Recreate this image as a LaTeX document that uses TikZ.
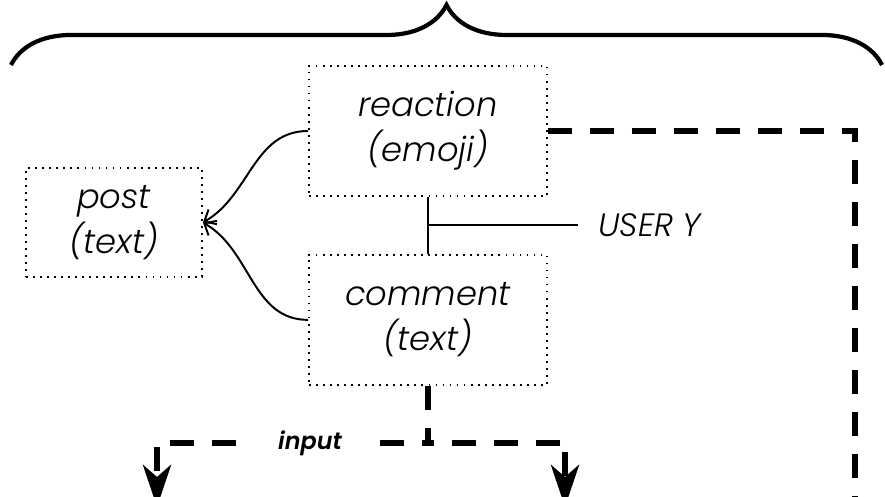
\documentclass[tikz,border=0pt]{standalone}
\usepackage{fontspec}
\setmainfont{Poppins}[ItalicFont={Poppins Light Italic},BoldItalicFont={Poppins SemiBold Italic}]
\usetikzlibrary{positioning,calc,arrows.meta,decorations.pathreplacing}
\tikzset{
    entity/.style={
           rectangle,
           draw=black, line width=1.3pt,
           dash pattern=on 1.3pt off 3.7pt,
           minimum width=5.95cm,
           minimum height=3.25cm,
           inner sep=2pt,
           align=center,
           font=\fontsize{24}{32}\selectfont\itshape,
           },
    link/.style={draw=black, line width=1.4pt},
    flow/.style={draw=black, line width=4.3pt, dash pattern=on 0.6cm off 0.45cm},
    tag/.style={font=\fontsize{23}{27}\selectfont\itshape},
}

\begin{document}
\begin{tikzpicture}[x=0.025cm, y=-0.025cm]
    \clip (0,0) rectangle (885,497);

    % the three entities
    \node[entity] (reaction) at (428,131) {reaction\\(emoji)};
    \node[entity, below=1.425cm of reaction] (comment) {comment\\(text)};
    \node[entity, minimum width=4.4cm, minimum height=2.725cm] (post) at (114,222.5) {post\\(text)};

    % both point back to the post
    \draw[link, -{Straight Barb[length=7pt,width=12pt]}]
        (reaction.west) to[out=180, in=30] (post.east);
    \draw[link, -{Straight Barb[length=7pt,width=12pt]}]
        (comment.west) to[out=180, in=-30] (post.east);

    % owner of reaction and comment
    \draw[link] (reaction.south) -- (comment.north);
    \coordinate (tick) at ($(reaction.south)!0.5!(comment.north)$);
    \node[tag, right=3.75cm of tick, inner xsep=0.5cm, anchor=west] (user) {USER Y};
    \draw[link] (tick) -- (user.west);

    % brace over everything
    \draw[line width=3pt, decorate, decoration={brace, amplitude=1.5cm}]
        (11,65) -- (882,65);

    % dashed flows
    \coordinate (down) at (855,510);
    \draw[flow] (reaction.east) -| (down);

    \coordinate (split) at (428,443);
    \coordinate (inL) at (170,443);
    \coordinate (inR) at (560,443);
    \draw[flow] (comment.south) -- (split);
    \draw[flow] (inL) -- node[pos=0.543, fill=white, inner xsep=0.9cm,
        font=\fontsize{17}{20}\selectfont\bfseries\itshape] (lbl) {input} (split);
    \draw[flow] (inR) -- (split);

    \coordinate (dropL) at (157,447);
    \coordinate (endL) at (157,507);
    \coordinate (dropR) at (565,452);
    \coordinate (endR) at (565,507);
    \draw[flow, -{Stealth[length=1.05cm, width=0.7cm, inset=0.3cm]}] (dropL) -- (endL);
    \draw[flow, -{Stealth[length=1.05cm, width=0.7cm, inset=0.3cm]}] (dropR) -- (endR);
\end{tikzpicture}
\end{document}
